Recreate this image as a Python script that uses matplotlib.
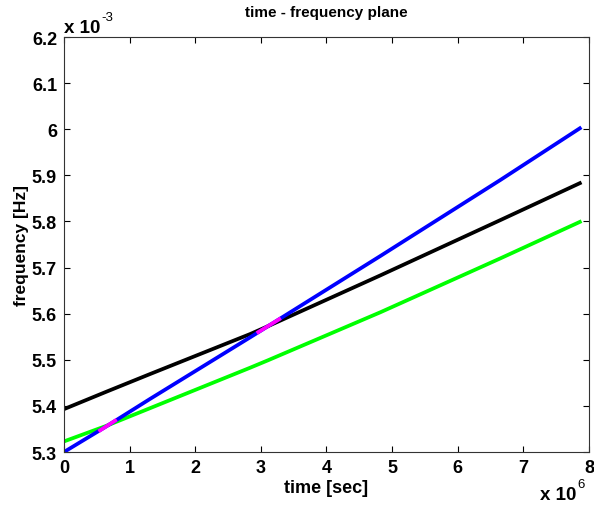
import matplotlib
matplotlib.use("Agg")
import matplotlib.pyplot as plt

# time axis samples in units of 1e6 sec, frequency in units of 1e-3 Hz
t = [0, 0.65, 1.31, 2.84, 3.11, 4.82, 6.65, 7.86]
f_blue = [5.300, 5.356, 5.415, 5.549, 5.573, 5.725, 5.890, 6.002]
f_black = [5.393, 5.431, 5.469, 5.556, 5.573, 5.683, 5.803, 5.883]
f_green = [5.323, 5.357, 5.395, 5.483, 5.499, 5.603, 5.720, 5.799]

# crossing segments highlighted in magenta
t_cross1 = [0.55, 0.78]
f_cross1 = [5.347, 5.368]
t_cross2 = [2.96, 3.28]
f_cross2 = [5.560, 5.588]

xticks = [0, 1, 2, 3, 4, 5, 6, 7, 8]
yticks = [5.3, 5.4, 5.5, 5.6, 5.7, 5.8, 5.9, 6.0, 6.1, 6.2]
ytick_labels = ["5.3", "5.4", "5.5", "5.6", "5.7", "5.8", "5.9", "6", "6.1", "6.2"]

plt.rcParams['font.family'] = ['Liberation Sans', 'DejaVu Sans']
plt.rcParams['font.weight'] = 'bold'

fig = plt.figure(figsize=(5.94, 5.06), dpi=100)
ax = fig.add_axes([0.1077, 0.1047, 0.8839, 0.8202])

lw = 2.7
ax.plot(t, f_black, color='black', lw=lw)
ax.plot(t, f_green, color='#00ff00', lw=lw)
ax.plot(t, f_blue, color='#0000ff', lw=lw)
ax.plot(t_cross1, f_cross1, color='#ff00ff', lw=lw)
ax.plot(t_cross2, f_cross2, color='#ff00ff', lw=lw)

ax.set_xlim(0, 8)
ax.set_ylim(5.3, 6.2)
ax.set_xticks(xticks)
ax.set_xticklabels([str(v) for v in xticks])
ax.set_yticks(yticks)
ax.set_yticklabels(ytick_labels)
ax.tick_params(direction='in', length=4, width=0.8, top=True, right=True,
               labelsize=13, pad=5, colors='black')
for lab in ax.get_xticklabels() + ax.get_yticklabels():
    lab.set_fontweight('bold')
for s in ax.spines.values():
    s.set_linewidth(0.8)
    s.set_color('#333333')

ax.set_title("time - frequency plane", fontsize=11, fontweight='bold', pad=15)
ax.set_xlabel("time [sec]", fontsize=13, fontweight='bold', labelpad=2)
ax.set_ylabel("frequency [Hz]", fontsize=12.5, fontweight='bold', labelpad=2)

# MATLAB-style exponent labels
ax.text(0.0, 1.022, "x 10", transform=ax.transAxes, fontsize=13.5,
        fontweight='bold', ha='left', va='center')
ax.text(0.071, 1.049, "-3", transform=ax.transAxes, fontsize=9.5,
        fontweight='normal', ha='left', va='center')
ax.text(0.975, -0.102, "x 10", transform=ax.transAxes, fontsize=13.5,
        fontweight='bold', ha='right', va='center')
ax.text(0.977, -0.077, "6", transform=ax.transAxes, fontsize=9.5,
        fontweight='normal', ha='left', va='center')

fig.savefig("out.png", dpi=100)
